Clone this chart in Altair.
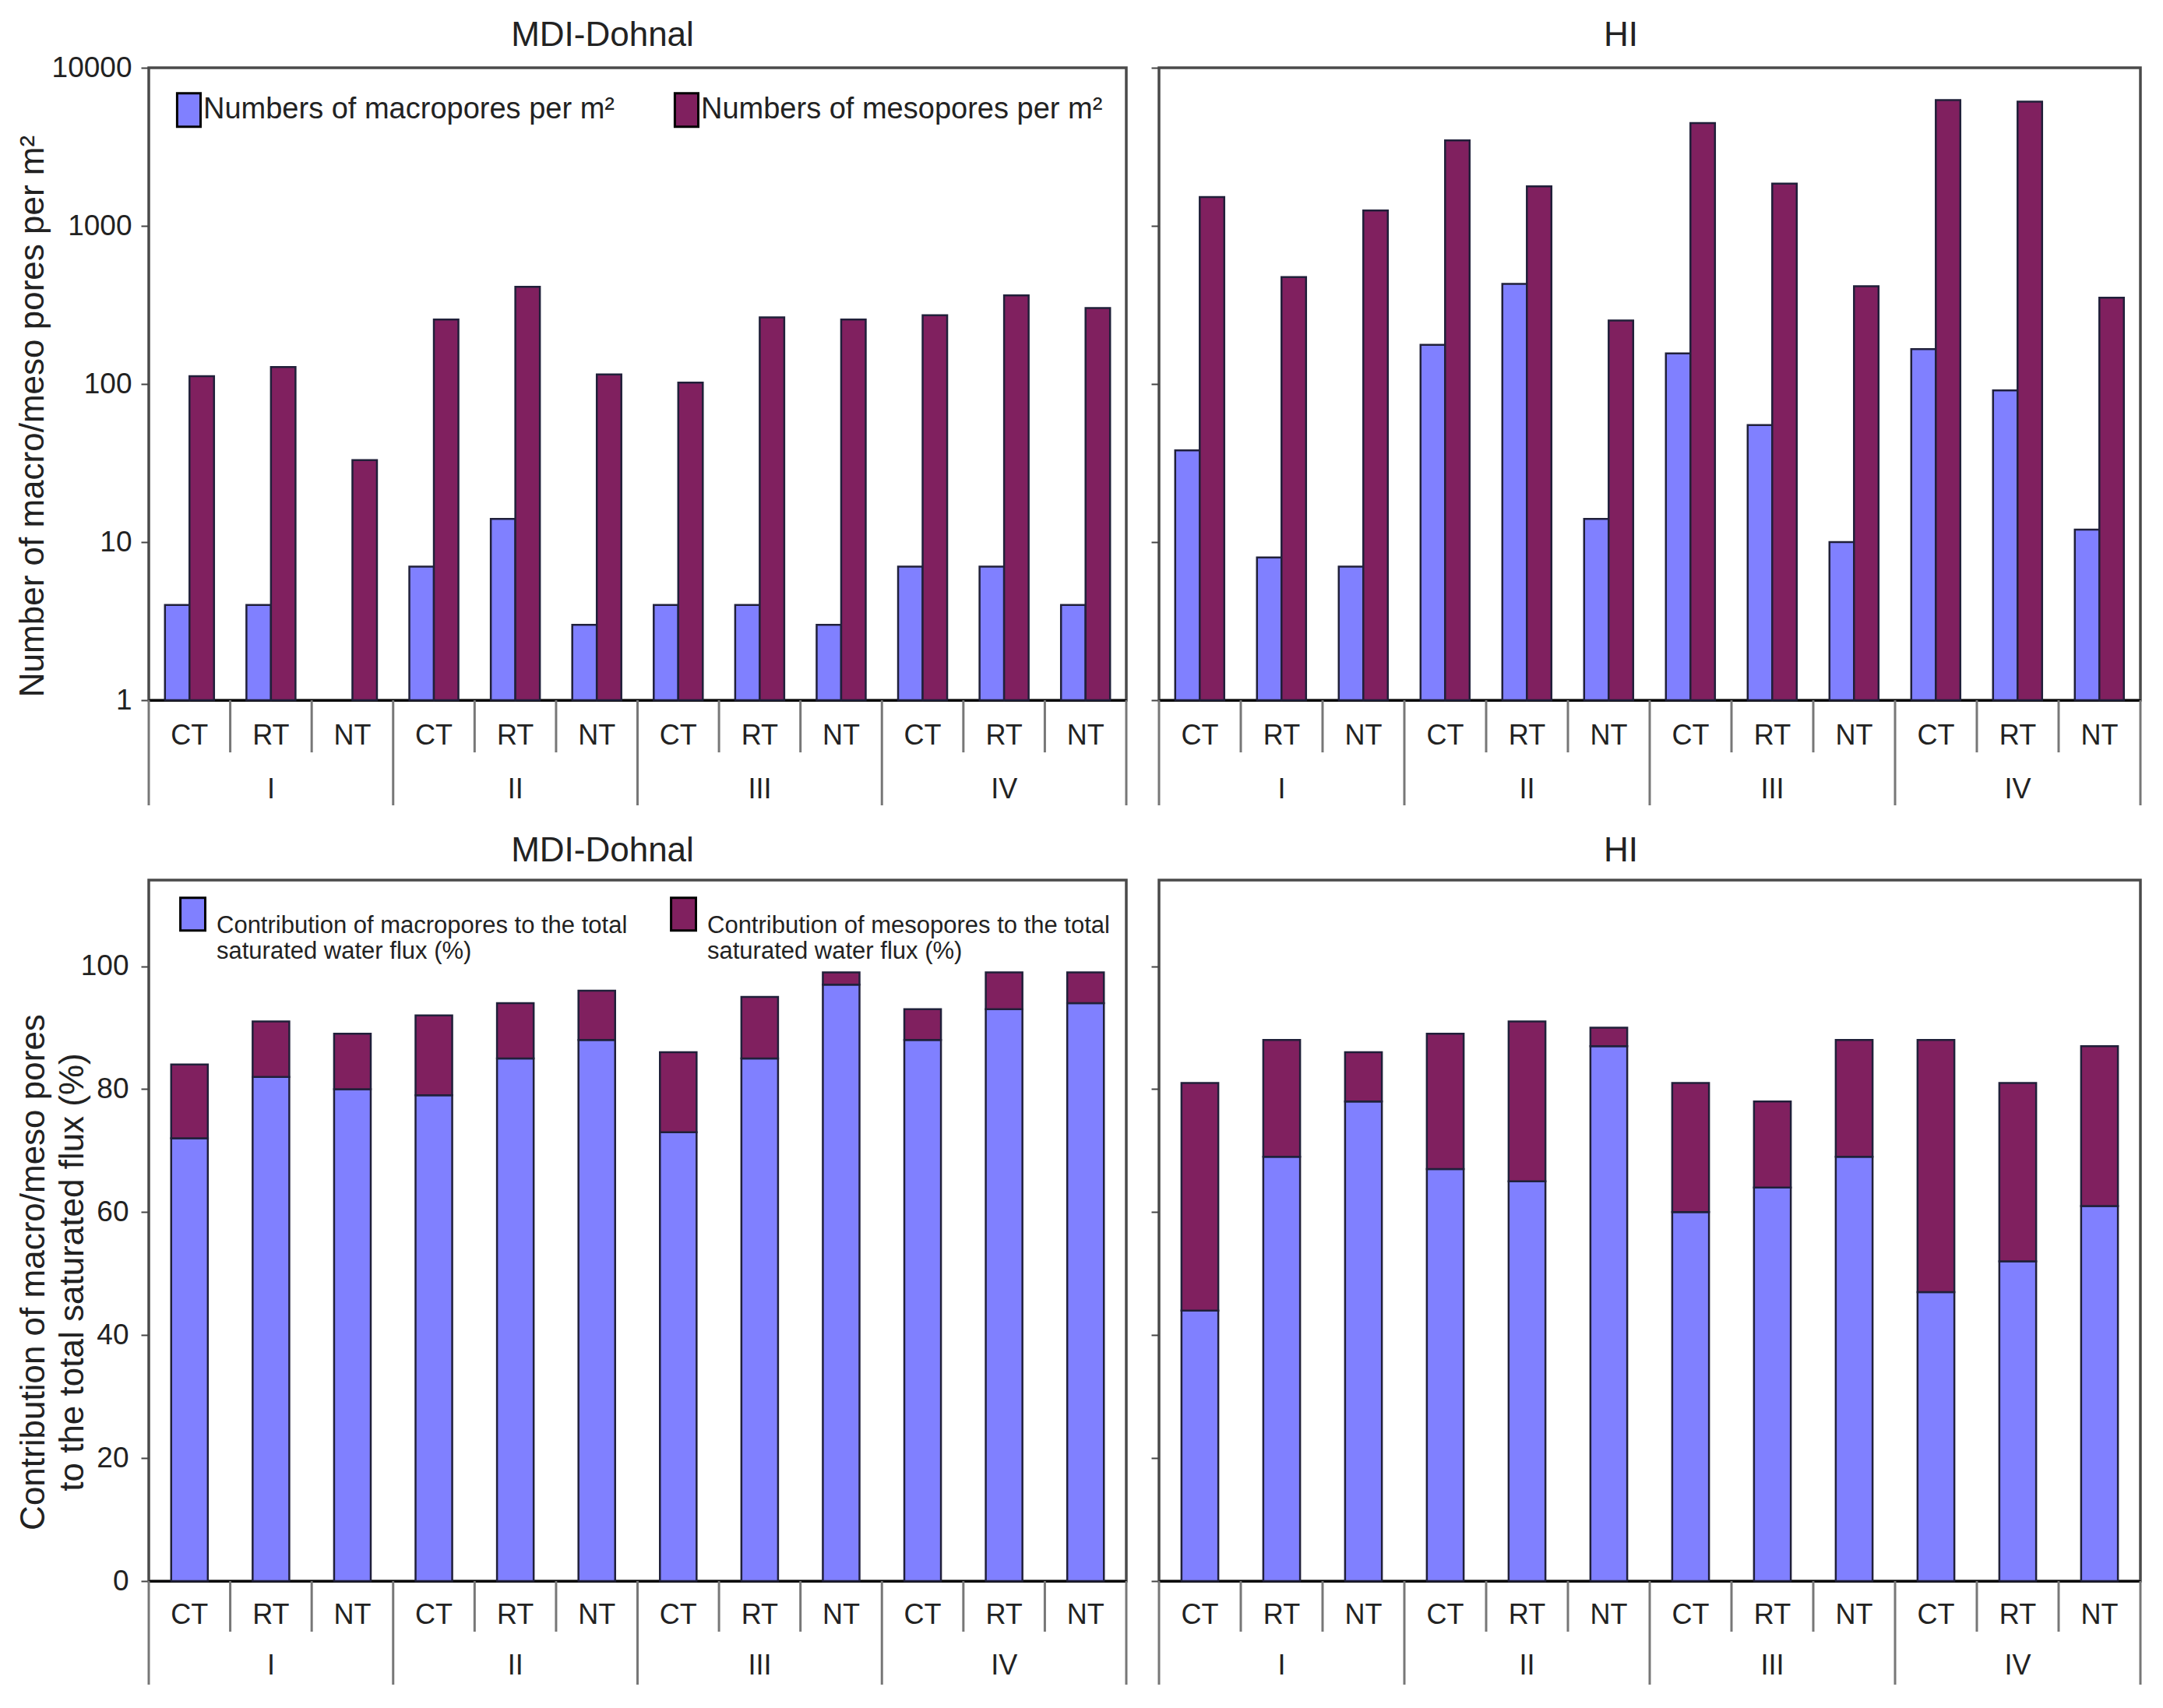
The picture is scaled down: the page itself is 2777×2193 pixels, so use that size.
import altair as alt
import pandas as pd

FONT = "Liberation Sans"
BLUE = "#8080FF"
PLUM = "#80205F"
TXT = "#222222"

groups = ["I", "II", "III", "IV"]
tillages = ["CT", "RT", "NT"]

# Numbers of pores per m2 (log scale panels)
mdi_macro_count = [4, 4, None, 7, 14, 3, 4, 4, 3, 7, 7, 4]
mdi_meso_count = [112, 128, 33, 256, 412, 115, 102, 264, 256, 272, 363, 302]
hi_macro_count = [38, 8, 7, 177, 429, 14, 156, 55, 10, 166, 91, 12]
hi_meso_count = [1520, 475, 1250, 3470, 1780, 252, 4470, 1850, 415, 6250, 6110, 351]

# Contribution to the total saturated water flux (%)
mdi_macro_pct = [72, 82, 80, 79, 85, 88, 73, 85, 97, 88, 93, 94]
mdi_meso_pct = [12, 9, 9, 13, 9, 8, 13, 10, 2, 5, 6, 5]
hi_macro_pct = [44, 69, 78, 67, 65, 87, 60, 64, 69, 47, 52, 61]
hi_meso_pct = [37, 19, 8, 22, 26, 3, 21, 14, 19, 41, 29, 26]

count_series = ["Numbers of macropores per m\u00b2", "Numbers of mesopores per m\u00b2"]
pct_series = ["Contribution of macropores to the total\nsaturated water flux (%)",
              "Contribution of mesopores to the total\nsaturated water flux (%)"]

cats = [f"{g}-{t}" for g in groups for t in tillages]

labels_df = pd.DataFrame({"cat": cats, "tillage": [t for g in groups for t in tillages]})
group_df = pd.DataFrame({"cat": [f"{g}-RT" for g in groups], "group": groups})
short_df = pd.DataFrame({"cat": [f"{g}-{t}" for g in groups for t in ["RT", "NT"]]})
long_df = pd.DataFrame({"cat": [f"{g}-CT" for g in groups]})
end_df = pd.DataFrame({"cat": [cats[-1]]})


def make_df(macro, meso, series):
    rows = []
    for i, c in enumerate(cats):
        if macro[i] is not None:
            rows.append({"cat": c, "series": series[0], "value": macro[i], "ord": 0})
        if meso[i] is not None:
            rows.append({"cat": c, "series": series[1], "value": meso[i], "ord": 1})
    return pd.DataFrame(rows)


def panel(kind, site, macro, meso, width, height, left, title_dx):
    xscale = alt.Scale(domain=cats, paddingInner=0, paddingOuter=0)
    xaxis = alt.Axis(labels=False, ticks=False, grid=False, domainColor="black",
                     domainWidth=3)

    def X(**kw):
        return alt.X("cat:N", scale=xscale, axis=xaxis, title=None, sort=cats, **kw)

    if kind == "count":
        series = count_series
        df = make_df(macro, meso, series)
        ydom = [1, 10000]
        yscale = alt.Scale(type="log", domain=ydom, nice=False)
        yvals = [1, 10, 100, 1000, 10000]
        ytitle = "Number of macro/meso pores per m\u00b2"
        title_x, title_y = -127, 447
        lab_pad = 12
        cat_dy, grp_dy, short_len, long_len = 46, 115, 67, 135
        site_dy = -28
        legend = alt.Legend(
            orient="none", legendX=22, legendY=31, direction="horizontal", columns=2,
            title=None, symbolType="M-0.4,-1H1V1H-0.4Z", symbolSize=1849,
            symbolStrokeColor="black", symbolStrokeWidth=3, symbolOpacity=1,
            labelFontSize=38, labelFont=FONT, labelColor=TXT, labelLimit=1200,
            columnPadding=63, labelOffset=2, padding=0,
        )
    else:
        series = pct_series
        df = make_df(macro, meso, series)
        ydom = [0, 114]
        yscale = alt.Scale(domain=ydom, nice=False)
        yvals = [0, 20, 40, 60, 80, 100]
        ytitle = ["Contribution of macro/meso pores", "to the total saturated flux (%)"]
        title_x, title_y = -126, 503
        lab_pad = 16
        cat_dy, grp_dy, short_len, long_len = 44, 109, 65, 133
        site_dy = -24
        legend = alt.Legend(
            orient="none", legendX=29, legendY=21, direction="horizontal", columns=2,
            title=None, symbolType="M-0.52,-1H1V1H-0.52Z", symbolSize=1764,
            symbolStrokeColor="black", symbolStrokeWidth=3, symbolOpacity=1,
            labelFontSize=31, labelFont=FONT, labelColor=TXT, labelLimit=1200,
            labelExpr="split(datum.label, '\\n')", labelBaseline="top",
            columnPadding=44, labelOffset=13, padding=0,
        )
    if not left:
        legend = None

    if left:
        yaxis = alt.Axis(values=yvals, format="d", tickSize=10, tickWidth=2,
                         tickColor="#444", labelFontSize=37, labelFont=FONT,
                         labelColor=TXT, labelPadding=lab_pad, domain=False, grid=False,
                         titleFontSize=44, titleFont=FONT, titleFontWeight="normal",
                         titleColor=TXT, titleX=title_x, titleY=title_y,
                         titleBaseline="bottom", titleAlign="center",
                         titleLineHeight=50)
        yt = ytitle
    else:
        yaxis = alt.Axis(values=yvals, format="d", tickSize=10, tickWidth=2,
                         tickColor="#444", labels=False, domain=False, grid=False)
        yt = None

    color = alt.Color("series:N", scale=alt.Scale(domain=series, range=[BLUE, PLUM]),
                      legend=legend, sort=series)

    if kind == "count":
        bars = alt.Chart(df).mark_bar(stroke="#20203a", strokeWidth=2.5).encode(
            x=X(),
            xOffset=alt.XOffset("series:N", sort=series,
                                scale=alt.Scale(domain=series, paddingOuter=0.66,
                                                paddingInner=0)),
            y=alt.Y("value:Q", scale=yscale, axis=yaxis, title=yt, stack=None),
            y2=alt.datum(1),
            color=color,
        )
    else:
        bars = alt.Chart(df).mark_bar(stroke="#20203a", strokeWidth=2.5,
                                      width=alt.RelativeBandSize(0.45)).encode(
            x=X(),
            y=alt.Y("value:Q", scale=yscale, axis=yaxis, title=yt, stack="zero"),
            color=color,
            order=alt.Order("ord:Q"),
        )

    cat_text = alt.Chart(labels_df).mark_text(
        font=FONT, fontSize=36, color=TXT, baseline="middle", align="center"
    ).encode(x=X(), y=alt.value(height + cat_dy), text="tillage:N")

    grp_text = alt.Chart(group_df).mark_text(
        font=FONT, fontSize=36, color=TXT, baseline="middle", align="center"
    ).encode(x=X(), y=alt.value(height + grp_dy), text="group:N")

    short_rules = alt.Chart(short_df).mark_rule(color="#777", strokeWidth=3).encode(
        x=X(bandPosition=0), y=alt.value(height), y2=alt.value(height + short_len))
    long_rules = alt.Chart(long_df).mark_rule(color="#777", strokeWidth=3).encode(
        x=X(bandPosition=0), y=alt.value(height), y2=alt.value(height + long_len))
    end_rule = alt.Chart(end_df).mark_rule(color="#777", strokeWidth=3).encode(
        x=X(bandPosition=1), y=alt.value(height), y2=alt.value(height + long_len))

    site_text = alt.Chart(pd.DataFrame({"site": [site]})).mark_text(
        font=FONT, fontSize=44, color=TXT, baseline="alphabetic", align="center"
    ).encode(x=alt.value(width / 2 + title_dx), y=alt.value(site_dy), text="site:N")

    return alt.layer(short_rules, long_rules, end_rule, bars, cat_text, grp_text,
                     site_text).properties(width=width, height=height)


tl = panel("count", "MDI-Dohnal", mdi_macro_count, mdi_meso_count, 1255, 812, True, -45)
tr = panel("count", "HI", hi_macro_count, hi_meso_count, 1260, 812, False, -37)
bl = panel("pct", "MDI-Dohnal", mdi_macro_pct, mdi_meso_pct, 1255, 900, True, -45)
br = panel("pct", "HI", hi_macro_pct, hi_meso_pct, 1260, 900, False, -37)

chart = alt.concat(
    tl, tr, bl, br, columns=2, bounds="flush", align="each",
    spacing=alt.RowColnumber(row=231, column=42),
).resolve_scale(
    color="independent"
).properties(
    padding={"left": 10, "top": 14, "right": 5, "bottom": 5},
    background="white",
).configure_view(
    stroke="#4a4a4a", strokeWidth=3.5
)

chart.save("out.html", embed_options={"renderer": "svg", "actions": False})
